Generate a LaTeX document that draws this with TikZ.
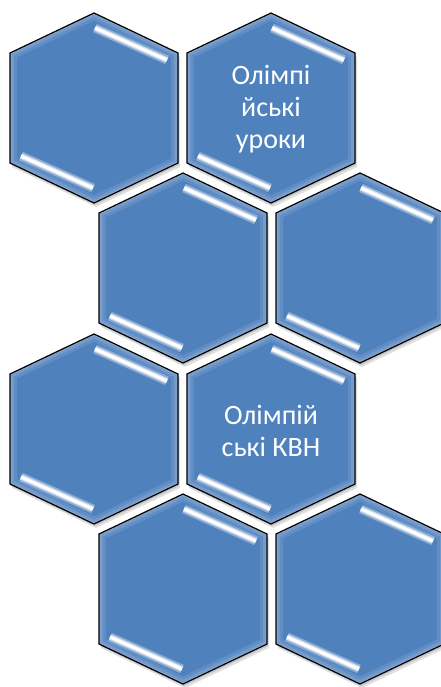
\documentclass[tikz,border=0pt]{standalone}
\usepackage{fontspec}
\setmainfont{Carlito}
\definecolor{hexblue}{RGB}{79,129,189}
\def\hexpath{(0,-95) -- (84,-55) -- (84,55) -- (0,95) -- (-84,55) -- (-84,-55) -- cycle}
\begin{document}
\begin{tikzpicture}[x=1pt,y=-1pt,
    hexshadow/.style={fill=black,opacity=0.12},
    hexglow/.style={draw=white,line join=miter},
    shine/.style={white,line cap=butt},
    hexline/.style={draw=black,line width=1.2pt,line join=miter},
    hextext/.style={align=center,text=white,font=\fontsize{28}{32}\selectfont}]
    \useasboundingbox (0,0) rectangle (441,687);
    \foreach \cx/\cy in {94/108, 271/108, 183/268, 360/268, 94/429, 271/429, 183/589, 360/589}
    {
      \begin{scope}[shift={(\cx,\cy)}]
        % soft shadow
        \fill[hexshadow,shift={(1,2)}] \hexpath;
        \fill[hexshadow,shift={(2,4)}] \hexpath;
        \fill[hexblue] \hexpath;
        % light rim inside the edge
        \begin{scope}
          \clip \hexpath;
          \draw[hexglow,opacity=0.10,line width=14pt] \hexpath;
          \draw[hexglow,opacity=0.12,line width=8pt] \hexpath;
          \draw[hexglow,opacity=0.15,line width=3pt] \hexpath;
        \end{scope}
        % glossy strips
        \draw[shine,opacity=0.35,line width=9pt] (1,-80) -- (73,-48);
        \draw[shine,opacity=0.6,line width=5.5pt] (1,-80) -- (73,-48);
        \draw[shine,line width=3pt] (1,-80) -- (73,-48);
        \draw[shine,opacity=0.35,line width=9pt] (-73,48) -- (-1,80);
        \draw[shine,opacity=0.6,line width=5.5pt] (-73,48) -- (-1,80);
        \draw[shine,line width=3pt] (-73,48) -- (-1,80);
        \draw[hexline] \hexpath;
      \end{scope}
    }
    \node[hextext] (uroky) at (271,109) {Олімпі\\йські\\уроки};
    \node[hextext] (kvn) at (271,431) {Олімпій\\ські КВН};
  \end{tikzpicture}
\end{document}
